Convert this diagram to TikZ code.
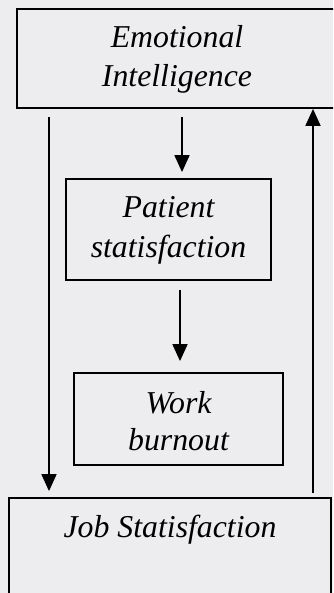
\documentclass[tikz,border=0pt]{standalone}
\usepackage{fontspec}
\setmainfont{Liberation Serif}
\usetikzlibrary{arrows.meta}
\definecolor{bgc}{HTML}{EDEDF0}
\tikzset{
  box/.style={draw=black, line width=1.8pt, inner sep=0pt, align=center,
    font=\itshape\fontsize{31.8}{38.5}\selectfont},
  arr/.style={draw=black, line width=1.8pt, -{Triangle[length=17pt,width=15pt]}}
}
\begin{document}
\begin{tikzpicture}[x=1pt,y=-1pt]
\useasboundingbox (0,0) rectangle (333,593);
\fill[bgc] (0,0) rectangle (333,593);
\begin{scope}
\clip (0,0) rectangle (333,593);
\node[box, minimum width=330pt, minimum height=99pt] (ei) at (182,58.5) {};
\node[box, draw=none, anchor=base] (eit1) at (177,48) {Emotional};
\node[box, draw=none, anchor=base] (eit2) at (177,87) {Intelligence};
\node[box, minimum width=205pt, minimum height=101pt] (pat) at (168.5,229.5) {};
\node[box, draw=none, anchor=base] (patt1) at (168.5,218) {Patient};
\node[box, draw=none, anchor=base] (patt2) at (168.5,257) {statisfaction};
\node[box, minimum width=209pt, minimum height=92pt] (work) at (178.5,419) {};
\node[box, draw=none, anchor=base] (workt1) at (178.5,413) {Work};
\node[box, draw=none, anchor=base] (workt2) at (178.5,450) {burnout};
\node[box, minimum width=322pt, minimum height=120pt] (job) at (170,558) {};
\node[box, draw=none, anchor=base] (jobt) at (170,537) {Job Statisfaction};
\coordinate (xl) at (49,0);
\coordinate (xm1) at (182,0);
\coordinate (xm2) at (180,0);
\coordinate (xr) at (313,0);
\draw[arr, shorten <=8pt, shorten >=6pt] (xl |- ei.south) -- (xl |- job.north);
\draw[arr, shorten <=8pt, shorten >=6pt] (xm1 |- ei.south) -- (xm1 |- pat.north);
\draw[arr, shorten <=9pt, shorten >=11pt] (xm2 |- pat.south) -- (xm2 |- work.north);
\draw[arr, shorten <=4pt] (xr |- job.north) -- (xr |- ei.south);
\end{scope}
\end{tikzpicture}
\end{document}
